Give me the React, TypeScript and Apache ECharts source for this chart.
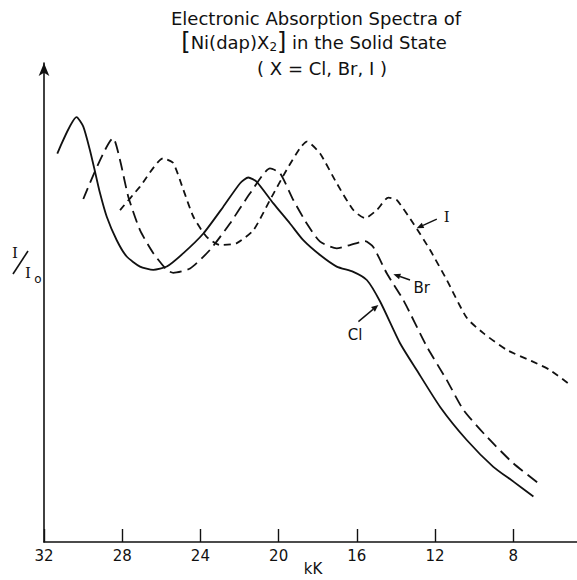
import React, { useEffect, useRef } from 'react';
import * as echarts from 'echarts';

// kK (wavenumber) and relative intensity (arbitrary units, 0-100)
const clKK = [31.32, 30.33, 29.99, 29.65, 29.39, 29.14, 28.79, 28.28, 27.77, 27.09, 26.41, 25.72, 24.87, 23.85, 22.83, 21.97, 21.55, 21.12, 20.27, 19.42, 18.74, 17.88, 17.03, 16.18, 15.49, 14.81, 13.79, 12.94, 11.74, 10.38, 9.02, 7.99, 6.97];
const clVal = [81.1, 88.7, 86.7, 81.8, 77.3, 72.9, 67.9, 63.0, 59.6, 57.5, 56.8, 57.5, 60.3, 64.4, 70.0, 74.9, 76.1, 75.2, 70.7, 66.5, 63.0, 59.9, 57.5, 56.4, 54.7, 50.2, 41.5, 35.9, 28.2, 21.3, 15.7, 12.6, 9.5];

const brKK = [29.99, 28.46, 28.11, 27.69, 27.09, 26.41, 25.72, 25.39, 24.53, 23.51, 22.49, 21.46, 20.44, 19.93, 19.25, 18.56, 17.88, 17.03, 16.35, 15.58, 15.16, 14.47, 13.62, 12.42, 11.4, 10.55, 9.36, 7.99, 6.72];
const brVal = [71.6, 84.3, 79.7, 72.1, 65.1, 60.3, 56.8, 56.2, 57.1, 61.0, 66.5, 72.8, 78.0, 77.0, 71.4, 66.5, 62.7, 61.3, 62.0, 62.8, 61.6, 56.1, 50.5, 40.8, 33.8, 27.6, 22.0, 16.4, 12.3];

const iKK = [28.11, 27.09, 25.9, 25.39, 24.87, 24.36, 23.68, 23.0, 22.14, 21.29, 20.44, 19.59, 18.91, 18.56, 17.88, 17.03, 16.18, 15.58, 14.98, 14.39, 13.96, 13.11, 12.26, 11.4, 10.38, 9.53, 8.33, 6.97, 6.12, 5.09];
const iVal = [69.3, 74.2, 80.1, 79.1, 73.5, 67.9, 63.7, 62.0, 62.4, 65.1, 71.4, 77.7, 82.2, 83.6, 81.1, 74.9, 69.3, 67.6, 69.3, 71.9, 71.4, 66.5, 61.0, 54.7, 46.8, 43.6, 40.1, 37.6, 35.9, 32.8];

const xTicks = [32, 28, 24, 20, 16, 12, 8];
const xMin = 4.74;
const xMax = 32;
const xName = 'kK';

const titleLines = ['Electronic Absorption Spectra of', '[Ni(dap)X2] in the Solid State', '( X = Cl, Br, I )'];

// annotation labels and arrows, in data coordinates
const annLabels = ['I', 'Br', 'Cl'];
const annLabelPos = [[11.55, 67.9], [12.68, 53.0], [16.09, 43.2]];
const annArrowFrom = [[11.91, 67.4], [13.28, 54.7], [15.92, 46.0]];
const annArrowTo = [[12.94, 65.5], [14.13, 55.9], [14.9, 49.5]];

const zip = (a: number[], b: number[]) => a.map((v, i) => [v, b[i]]);

const FONT = '"DejaVu Sans", sans-serif';

export default function App() {
  const ref = useRef<HTMLDivElement>(null);
  useEffect(() => {
    if (!ref.current) return;
    const chart = echarts.init(ref.current, null, { renderer: 'svg' });
    const lineCommon = { type: 'line', symbol: 'none', smooth: 0.2, silent: true };
    chart.setOption({
      animation: false,
      backgroundColor: '#ffffff',
      grid: { left: 44, top: 63, right: 0, bottom: 38, containLabel: false, outerBoundsMode: 'none' },
      xAxis: {
        type: 'value',
        inverse: true,
        min: xMin,
        max: xMax,
        axisLine: { show: true, onZero: false, lineStyle: { color: '#111', width: 1.6 } },
        axisTick: { show: true, inside: true, length: 13, customValues: xTicks, lineStyle: { color: '#111', width: 1.4 } },
        axisLabel: {
          color: '#111',
          fontSize: 15,
          fontFamily: FONT,
          margin: 6,
          customValues: xTicks,
          showMinLabel: true,
          showMaxLabel: true,
          formatter: (v: number) => String(v),
        },
        splitLine: { show: false },
      },
      yAxis: {
        type: 'value',
        min: 0,
        max: 100,
        axisLine: {
          show: true,
          onZero: false,
          symbol: ['none', 'arrow'],
          symbolSize: [8, 13],
          lineStyle: { color: '#111', width: 1.6 },
        },
        axisTick: { show: false },
        axisLabel: { show: false },
        splitLine: { show: false },
      },
      series: [
        { ...lineCommon, name: 'Cl', data: zip(clKK, clVal), lineStyle: { color: '#111', width: 1.8, type: 'solid' } },
        { ...lineCommon, name: 'Br', data: zip(brKK, brVal), lineStyle: { color: '#111', width: 1.8, type: [12, 6] } },
        { ...lineCommon, name: 'I', data: zip(iKK, iVal), lineStyle: { color: '#111', width: 1.8, type: [7, 5] } },
      ],
    });

    const graphics: any[] = [];
    // title
    graphics.push({
      type: 'text', x: 316, y: 18,
      style: { text: titleLines[0], fill: '#111', font: `18px ${FONT}`, align: 'center', verticalAlign: 'middle' },
    });
    graphics.push({
      type: 'text', x: 314, y: 42,
      style: {
        text: '{b|[}Ni(dap)X{s|2}{b|]} in the Solid State',
        fill: '#111', font: `18px ${FONT}`, align: 'center', verticalAlign: 'middle',
        rich: {
          b: { fontSize: 24, fontFamily: FONT, fill: '#111' },
          s: { fontSize: 12, fontFamily: FONT, fill: '#111', padding: [9, 0, 0, 0] },
        },
      },
    });
    graphics.push({
      type: 'text', x: 322, y: 68,
      style: { text: titleLines[2], fill: '#111', font: `18px ${FONT}`, align: 'center', verticalAlign: 'middle' },
    });
    // x-axis name
    graphics.push({
      type: 'text', x: 313, y: 569,
      style: { text: xName, fill: '#111', font: `15px ${FONT}`, align: 'center', verticalAlign: 'middle' },
    });
    // y-axis label I/Io
    graphics.push({ type: 'text', x: 15, y: 253, style: { text: 'I', fill: '#111', font: `15px "DejaVu Serif", serif`, align: 'center', verticalAlign: 'middle' } });
    graphics.push({ type: 'line', shape: { x1: 13, y1: 274, x2: 28, y2: 251 }, style: { stroke: '#111', lineWidth: 1.6 } });
    graphics.push({ type: 'text', x: 28, y: 273, style: { text: 'I', fill: '#111', font: `15px "DejaVu Serif", serif`, align: 'center', verticalAlign: 'middle' } });
    graphics.push({ type: 'text', x: 38, y: 279, style: { text: 'o', fill: '#111', font: `12px ${FONT}`, align: 'center', verticalAlign: 'middle' } });

    // annotations with arrows
    annLabels.forEach((lab, i) => {
      const p = chart.convertToPixel({ gridIndex: 0 }, annLabelPos[i]) as number[];
      const a = chart.convertToPixel({ gridIndex: 0 }, annArrowFrom[i]) as number[];
      const b = chart.convertToPixel({ gridIndex: 0 }, annArrowTo[i]) as number[];
      graphics.push({
        type: 'text', x: p[0], y: p[1],
        style: {
          text: lab, fill: '#111',
          font: lab === 'I' ? `15px "DejaVu Serif", serif` : `15px ${FONT}`,
          align: lab === 'I' ? 'left' : 'center', verticalAlign: 'middle',
        },
      });
      const dx = b[0] - a[0];
      const dy = b[1] - a[1];
      const len = Math.sqrt(dx * dx + dy * dy);
      const ux = dx / len;
      const uy = dy / len;
      const hl = 7;
      const hw = 3;
      const bx = b[0] - ux * hl;
      const by = b[1] - uy * hl;
      graphics.push({ type: 'line', shape: { x1: a[0], y1: a[1], x2: bx, y2: by }, style: { stroke: '#111', lineWidth: 1.4 } });
      graphics.push({
        type: 'polygon',
        shape: { points: [[b[0], b[1]], [bx - uy * hw, by + ux * hw], [bx + uy * hw, by - ux * hw]] },
        style: { fill: '#111' },
      });
    });
    chart.setOption({ graphic: graphics });

    return () => chart.dispose();
  }, []);
  return <div ref={ref} style={{ position: 'fixed', left: 0, top: 0, width: 577, height: 580 }} />;
}
